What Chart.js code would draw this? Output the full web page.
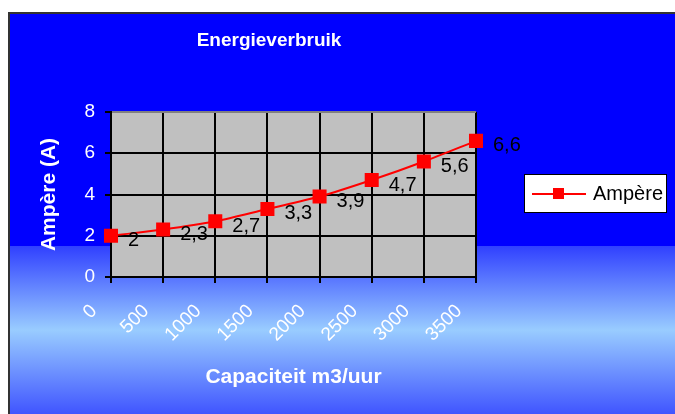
<!DOCTYPE html>
<html>
<head>
<meta charset="utf-8">
<script src="https://cdn.jsdelivr.net/npm/chart.js@4.4.0/dist/chart.umd.min.js"></script>
<style>
  html, body { margin: 0; padding: 0; background: #fff; }
</style>
</head>
<body>
<canvas id="chart" width="675" height="414"></canvas>
<script>
// DATA
var capacities = ['0', '500', '1000', '1500', '2000', '2500', '3000', '3500'];
var ampere = [2, 2.3, 2.7, 3.3, 3.9, 4.7, 5.6, 6.6];
var yMin = 0, yMax = 8, yStep = 2;
var seriesName = 'Ampère';
var chartTitle = 'Energieverbruik';
var xTitle = 'Capaciteit m3/uur';
var yTitle = 'Ampère (A)';

var FONT = "'Liberation Sans', Arial, sans-serif";

function fmt(v) { return String(v).replace('.', ','); }

// background: white page, blue frame with lighter band at the bottom, grey plot area
var backdrop = {
  id: 'backdrop',
  beforeDraw: function (chart) {
    var ctx = chart.ctx, a = chart.chartArea;
    ctx.save();
    ctx.fillStyle = '#ffffff';
    ctx.fillRect(0, 0, chart.width, chart.height);
    ctx.fillStyle = '#0000ff';
    ctx.fillRect(9, 13, chart.width - 9, 233);
    var g = ctx.createLinearGradient(0, 246, 0, chart.height);
    g.addColorStop(0, '#3040ff');
    g.addColorStop(0.5, '#99ccff');
    g.addColorStop(1, '#4055ff');
    ctx.fillStyle = g;
    ctx.fillRect(9, 246, chart.width - 9, chart.height - 246);
    ctx.strokeStyle = '#333333';
    ctx.lineWidth = 2;
    ctx.beginPath();
    ctx.moveTo(9, chart.height);
    ctx.lineTo(9, 13);
    ctx.lineTo(chart.width, 13);
    ctx.stroke();
    ctx.fillStyle = '#c0c0c0';
    ctx.fillRect(a.left, a.top, a.right - a.left, a.bottom - a.top);
    ctx.restore();
  }
};

// chart title, centred over the frame like excel does
var titleText = {
  id: 'titleText',
  afterDraw: function (chart) {
    var ctx = chart.ctx;
    ctx.save();
    ctx.fillStyle = '#ffffff';
    ctx.font = 'bold 19px ' + FONT;
    ctx.textAlign = 'center';
    ctx.textBaseline = 'middle';
    ctx.fillText(chartTitle, 269, 41);
    ctx.restore();
  }
};

// value labels to the right of each marker
var valueLabels = {
  id: 'valueLabels',
  afterDatasetsDraw: function (chart) {
    var ctx = chart.ctx;
    var meta = chart.getDatasetMeta(0);
    ctx.save();
    ctx.fillStyle = '#000000';
    ctx.font = '20px ' + FONT;
    ctx.textAlign = 'left';
    ctx.textBaseline = 'middle';
    meta.data.forEach(function (pt, i) {
      ctx.fillText(fmt(ampere[i]), pt.x + 17, pt.y + 5);
    });
    ctx.restore();
  }
};

// excel style legend box: line with square marker
var legendBox = {
  id: 'legendBox',
  afterDraw: function (chart) {
    var ctx = chart.ctx;
    var x = 524, y = 174, w = 142, h = 38;
    ctx.save();
    ctx.fillStyle = '#ffffff';
    ctx.fillRect(x, y, w, h);
    ctx.strokeStyle = '#000000';
    ctx.lineWidth = 1;
    ctx.strokeRect(x + 0.5, y + 0.5, w, h);
    ctx.strokeStyle = '#ff0000';
    ctx.lineWidth = 2;
    ctx.beginPath();
    ctx.moveTo(x + 8, y + 20);
    ctx.lineTo(x + 62, y + 20);
    ctx.stroke();
    ctx.fillStyle = '#ff0000';
    ctx.fillRect(x + 29, y + 14, 11, 11);
    ctx.fillStyle = '#000000';
    ctx.font = '20px ' + FONT;
    ctx.textBaseline = 'middle';
    ctx.fillText(seriesName, x + 69, y + 20);
    ctx.restore();
  }
};

var chart = new Chart(document.getElementById('chart'), {
  type: 'line',
  data: {
    labels: capacities,
    datasets: [{
      label: seriesName,
      data: ampere,
      borderColor: '#ff0000',
      borderWidth: 2,
      backgroundColor: '#ff0000',
      pointStyle: 'rect',
      pointRadius: 8.5,
      pointBackgroundColor: '#ff0000',
      pointBorderColor: '#ff0000',
      tension: 0.3,
      fill: false,
      clip: false
    }]
  },
  options: {
    responsive: false,
    animation: false,
    devicePixelRatio: 1,
    layout: { padding: { left: 35, top: 112, right: 199, bottom: 22 } },
    plugins: {
      legend: { display: false },
      tooltip: { enabled: false },
      title: { display: false }
    },
    scales: {
      x: {
        offset: false,
        afterFit: function (s) { s.height = 115; },
        grid: { color: '#000000', lineWidth: 2, tickLength: 6, tickColor: '#000000' },
        border: { color: '#000000', width: 2 },
        ticks: {
          color: '#ffffff',
          font: { family: FONT, size: 19 },
          minRotation: 45,
          maxRotation: 45,
          autoSkip: false,
          labelOffset: -17,
          padding: 17
        },
        title: {
          display: true,
          text: xTitle,
          color: '#ffffff',
          font: { family: FONT, size: 21, weight: 'bold' },
          padding: { top: 2, bottom: 2 }
        }
      },
      y: {
        min: yMin,
        max: yMax,
        afterFit: function (s) { s.width = 76; },
        grid: {
          color: function (c) { return c.tick && c.tick.value === yMax ? '#808080' : '#000000'; },
          lineWidth: 2,
          tickLength: 6,
          tickColor: '#000000'
        },
        border: { color: '#000000', width: 2 },
        ticks: {
          stepSize: yStep,
          color: '#ffffff',
          font: { family: FONT, size: 19 },
          padding: 10
        },
        title: {
          display: true,
          text: yTitle,
          color: '#ffffff',
          font: { family: FONT, size: 21, weight: 'bold' },
          padding: { top: 2, bottom: 2 }
        }
      }
    }
  },
  plugins: [backdrop, valueLabels, legendBox, titleText]
});
</script>
</body>
</html>
